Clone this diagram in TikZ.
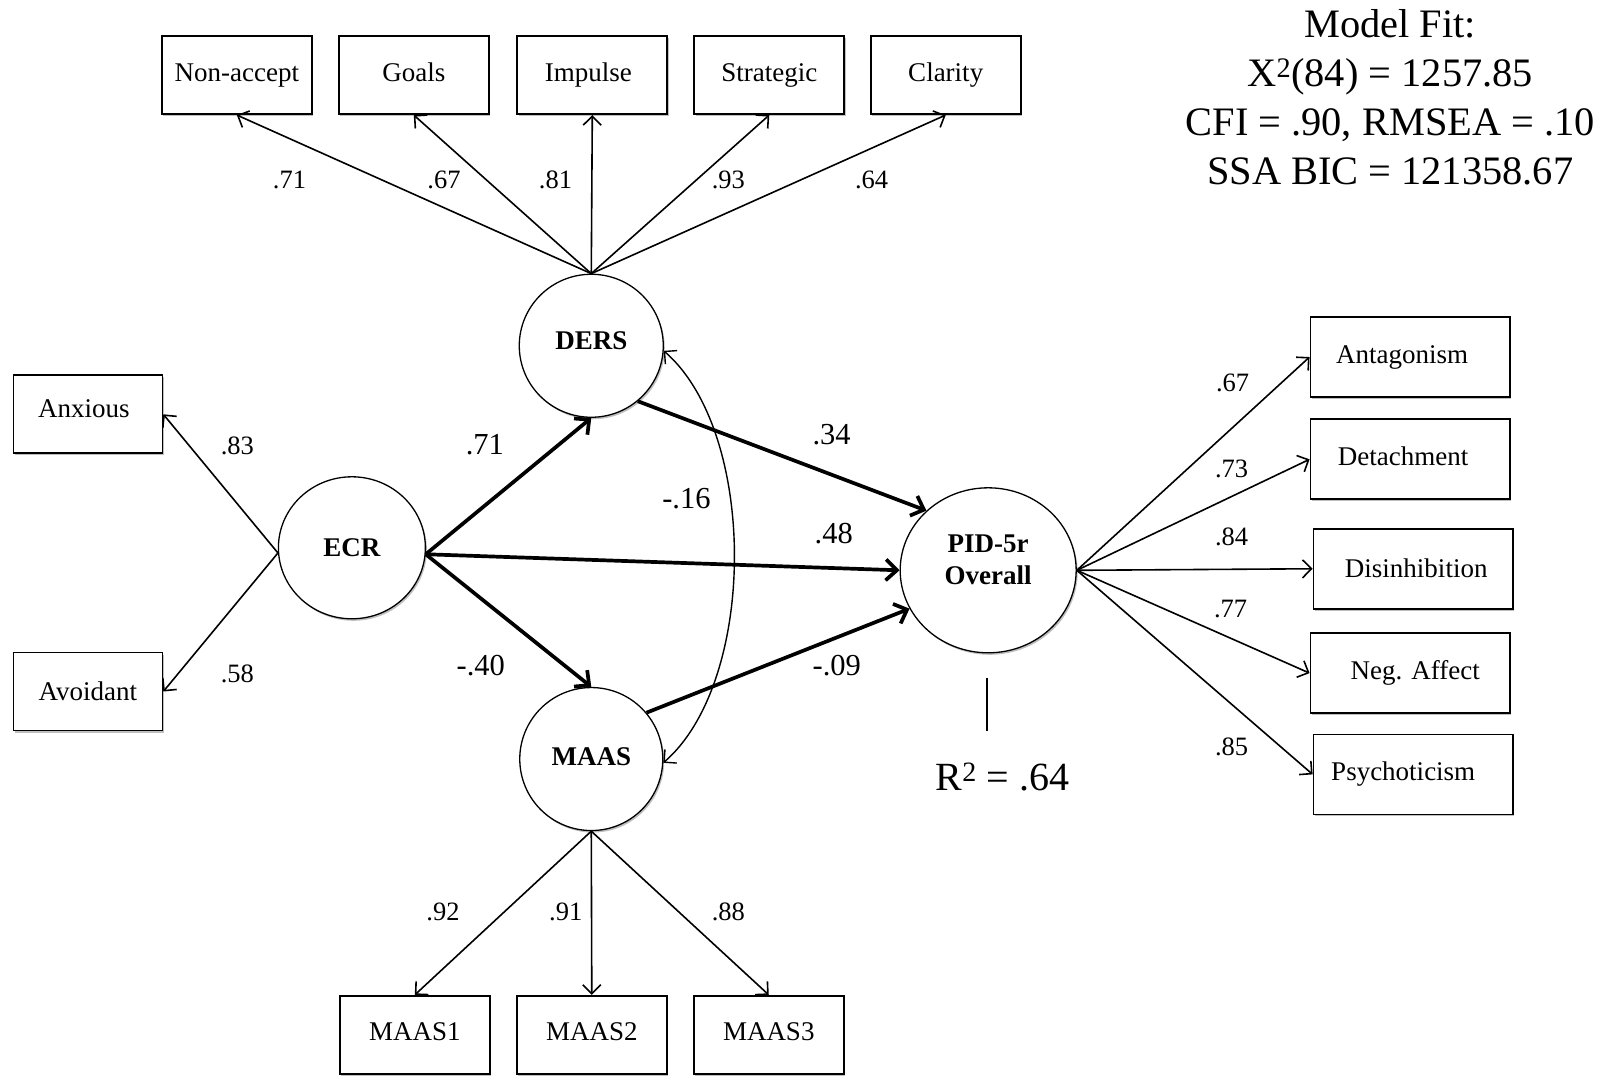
\documentclass[tikz,border=0pt]{standalone}
\usepackage{fontspec}
\setmainfont{Liberation Serif}
\usetikzlibrary{arrows.meta,shapes.geometric,shadows}
\begin{document}
\begin{tikzpicture}[x=1.023pt,y=-1.023pt,
  shd/.style={drop shadow={shadow xshift=1.5pt,shadow yshift=-2pt,opacity=0.25,fill=black}},
  box/.style={draw,line width=1.7pt,fill=white,inner sep=0pt,minimum width=150pt,minimum height=78pt,font=\fontsize{27}{30}\selectfont,text height=18.4pt,text depth=5.9pt,shd},
  rbox/.style={box,minimum width=199.5pt,minimum height=80pt},
  lat/.style={ellipse,draw,line width=1.3pt,fill=white,inner sep=0pt,font=\fontsize{27}{32}\selectfont\bfseries,align=center,shd},
  load/.style={-{Straight Barb[length=9pt,width=18pt]},line width=1.6pt},
  strpath/.style={-{Straight Barb[length=11pt,width=21pt]},line width=3.7pt},
  cov/.style={{Straight Barb[length=9pt,width=18pt]}-{Straight Barb[length=9pt,width=18pt]},line width=1.4pt},
  ld/.style={inner sep=0pt,font=\fontsize{26.5}{30}\selectfont},
  pl/.style={inner sep=0pt,font=\fontsize{30.5}{34}\selectfont}
]
\useasboundingbox (0,0) rectangle (1568,1052);

% top indicators
\node[box] (nonaccept) at (231.5,73.5) {Non-accept};
\node[box] (goals) at (404.5,73.5) {Goals};
\node[box] (impulse) at (579,73.5) {Impulse\hspace*{8pt}};
\node[box] (strategic) at (752,73.5) {Strategic};
\node[box] (clarity) at (924.5,73.5) {Clarity};

% left indicators
\node[box,minimum width=149pt,text depth=12pt] (anxious) at (86,405) {Anxious\hspace*{8pt}};
\node[box,minimum width=149pt,text depth=0pt] (avoidant) at (86,676) {Avoidant};

% right indicators
\node[rbox] (antag) at (1378.5,349) {Antagonism\hspace*{16pt}};
\node[rbox] (detach) at (1378.5,449) {Detachment\hspace*{14pt}};
\node[rbox,text depth=0pt] (disinh) at (1381.5,556) {\hspace*{6pt}Disinhibition};
\node[rbox] (negaff) at (1378.5,658) {\hspace*{10pt}Neg. Affect};
\node[rbox] (psycho) at (1381.5,757) {Psychoticism\hspace*{20pt}};

% bottom indicators
\node[box] (maasa) at (405.5,1011.5) {MAAS1};
\node[box] (maasb) at (578.5,1011.5) {MAAS2};
\node[box] (maasc) at (751.5,1011.5) {MAAS3};

% latent variables
\node[lat,minimum width=144pt,minimum height=143pt,text depth=10pt] (ders) at (578,338) {DERS};
\node[lat,minimum width=147pt,minimum height=142pt] (ecr) at (344,535.5) {ECR};
\node[lat,minimum width=143pt,minimum height=143pt,text depth=4pt] (maas) at (578,742) {MAAS};
\node[lat,minimum width=176pt,minimum height=165pt,text depth=22pt] (pid) at (966,557.5) {PID-5r\\Overall};

% loadings DERS
\draw[load] (ders.north) -- (nonaccept.south);
\draw[load] (ders.north) -- (goals.south);
\draw[load] (ders.north) -- (impulse.south);
\draw[load] (ders.north) -- (strategic.south);
\draw[load] (ders.north) -- (clarity.south);

% loadings ECR
\draw[load] (ecr.184) -- (anxious.east);
\draw[load] (ecr.184) -- (avoidant.east);

% loadings MAAS
\draw[load] (maas.south) -- (maasa.north);
\draw[load] (maas.south) -- (maasb.north);
\draw[load] (maas.south) -- (maasc.north);

% loadings PID
\draw[load] (pid.east) -- (antag.west);
\draw[load] (pid.east) -- (detach.west);
\draw[load] (pid.east) -- (disinh.west);
\draw[load] (pid.east) -- (negaff.west);
\draw[load] (pid.east) -- (psycho.west);

% structural paths
\draw[strpath] (ecr.-5) -- (ders.south);
\draw[strpath] (ecr.-5) -- (maas.north);
\draw[strpath] (ecr.-5) -- (pid.west);
\draw[strpath] (ders.-50) -- (pid.136);
\draw[strpath] (maas.40) -- (pid.206);

% covariance
\draw[cov] (ders.-4) .. controls +(92,80) and +(92,-80) .. (maas.-3);

% R squared
\coordinate (r2a) at (965,663);
\coordinate (r2b) at (965,715);
\draw[line width=1.4pt] (r2a) -- (r2b);
\node[inner sep=0pt,font=\fontsize{40}{48}\selectfont] (r2) at (980,760) {R\textsuperscript{2} = .64};

% labels
\node[ld] (l1) at (283,176) {.71};
\node[ld] (l2) at (434,176) {.67};
\node[ld] (l3) at (543,176) {.81};
\node[ld] (l4) at (712,176) {.93};
\node[ld] (l5) at (852,176) {.64};
\node[ld] (l6) at (232,436) {.83};
\node[ld] (l7) at (232,659) {.58};
\node[ld] (l8) at (1205,374) {.67};
\node[ld] (l9) at (1204,458) {.73};
\node[ld] (l10) at (1204,525) {.84};
\node[ld] (l11) at (1203,595) {.77};
\node[ld] (l12) at (1204,730) {.85};
\node[ld] (l13) at (433,891) {.92};
\node[ld] (l14) at (553,891) {.91};
\node[ld] (l15) at (712,891) {.88};
\node[pl] (p1) at (474,435) {.71};
\node[pl] (p2) at (470,651) {-.40};
\node[pl] (p3) at (815,522) {.48};
\node[pl] (p4) at (813,425) {.34};
\node[pl] (p5) at (818,651) {-.09};
\node[pl] (p6) at (671,487) {-.16};

% model fit
\node[inner sep=0pt,align=center,font=\fontsize{40.4}{49}\selectfont] (fit) at (1359,95.5)
  {Model Fit:\\X\textsuperscript{2}(84) = 1257.85\\CFI = .90, RMSEA = .10\\SSA BIC = 121358.67};
\end{tikzpicture}
\end{document}
